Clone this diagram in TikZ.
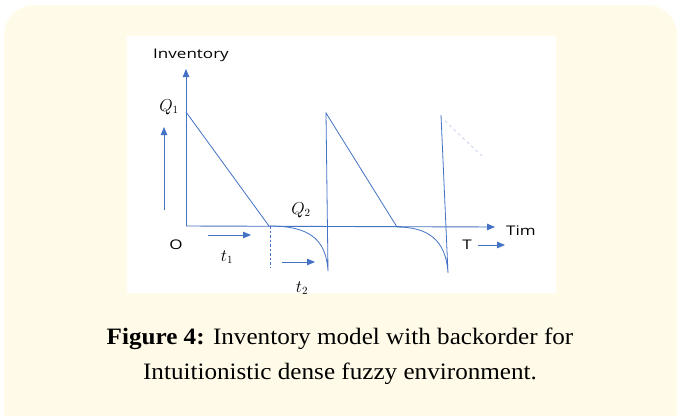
\documentclass[tikz,border=0pt]{standalone}
\usepackage{fontspec}
\usepackage{graphicx}
\usetikzlibrary{arrows.meta}
\newfontfamily\capfont{Liberation Serif}
\newfontfamily\lblfont{Open Sans}
\definecolor{panel}{HTML}{FFFBE8}
\definecolor{ln}{HTML}{4472C4}
\definecolor{faint}{HTML}{C9D6EE}
\newcommand{\widelbl}[1]{\scalebox{1.28}[1]{#1}}
\newcommand{\widecap}[1]{\scalebox{1.07}[1]{#1}}
\tikzset{
  curve/.style={draw=ln, line width=0.8pt},
  arr/.style={draw=ln, line width=0.9pt, -{Triangle[length=8pt,width=6.5pt]}},
  lbl/.style={font=\lblfont\fontsize{13.3}{15}\selectfont, text=black, inner sep=0pt},
  mlbl/.style={font=\fontsize{16}{18}\selectfont, text=black, inner sep=0pt},
  captext/.style={font=\capfont\fontsize{23.5}{26}\selectfont, text=black, inner sep=0pt}
}
\begin{document}
\begin{tikzpicture}[x=1pt,y=-1pt]
\useasboundingbox (0,0) rectangle (680,415);
\begin{scope}
\clip (0,0) rectangle (680,415);
\fill[panel, rounded corners=30pt] (4,5) rectangle (677,445);
\end{scope}
\fill[white] (127,36) rectangle (556,293);
% axes
\coordinate (O) at (186,226);
\coordinate (ytop) at (186,69);
\coordinate (xend) at (495,227);
\draw[arr] (O) -- (ytop);
\draw[arr] (O) -- (xend);
% inventory path
\coordinate (q1) at (186,112);
\coordinate (a1) at (269,226);
\coordinate (b1) at (328,271);
\coordinate (p2) at (326,113);
\coordinate (a2) at (397,227);
\coordinate (b2) at (448,273);
\coordinate (p3) at (441,115);
\draw[curve] (q1) -- (a1) .. controls (308,226) and (326,238) .. (b1) -- (p2) -- (a2)
  .. controls (428,227) and (446,240) .. (b2) -- (p3);
\coordinate (f1) at (445,121);
\coordinate (f2) at (482,156);
\draw[faint, line width=0.8pt, dashed] (f1) -- (f2);
% dashed vertical
\coordinate (d1) at (270,226);
\coordinate (d2) at (270,268);
\draw[ln, line width=0.8pt, dash pattern=on 2.5pt off 2pt] (d1) -- (d2);
% small arrows
\coordinate (ua1) at (164,210);
\coordinate (ua2) at (164,127);
\draw[arr] (ua1) -- (ua2);
\coordinate (t1a) at (208,235);
\coordinate (t1b) at (251,235);
\draw[arr] (t1a) -- (t1b);
\coordinate (t2a) at (282,262);
\coordinate (t2b) at (315,262);
\draw[arr] (t2a) -- (t2b);
\coordinate (Ta) at (478,245);
\coordinate (Tb) at (505,245);
\draw[arr] (Ta) -- (Tb);
% labels
\node[lbl] (inv) at (191,55) {\widelbl{Inventory}};
\node[lbl] (tim) at (521,231) {\widelbl{Tim}};
\node[lbl] (o) at (176,245) {\widelbl{O}};
\node[lbl] (T) at (467,245) {\widelbl{T}};
\node[mlbl] (Q1) at (169,107) {$Q_1$};
\node[mlbl] (Q2) at (301,210) {$Q_2$};
\node[mlbl] (t1) at (227,257) {$t_1$};
\begin{scope}
\clip (127,36) rectangle (556,293);
\node[mlbl] (t2) at (302,288) {$t_2$};
\end{scope}
% caption
\node[captext] (c1) at (340,339) {\widecap{\textbf{Figure 4:} Inventory model with backorder for}};
\node[captext] (c2) at (340,374) {\widecap{Intuitionistic dense fuzzy environment.}};
\end{tikzpicture}
\end{document}
